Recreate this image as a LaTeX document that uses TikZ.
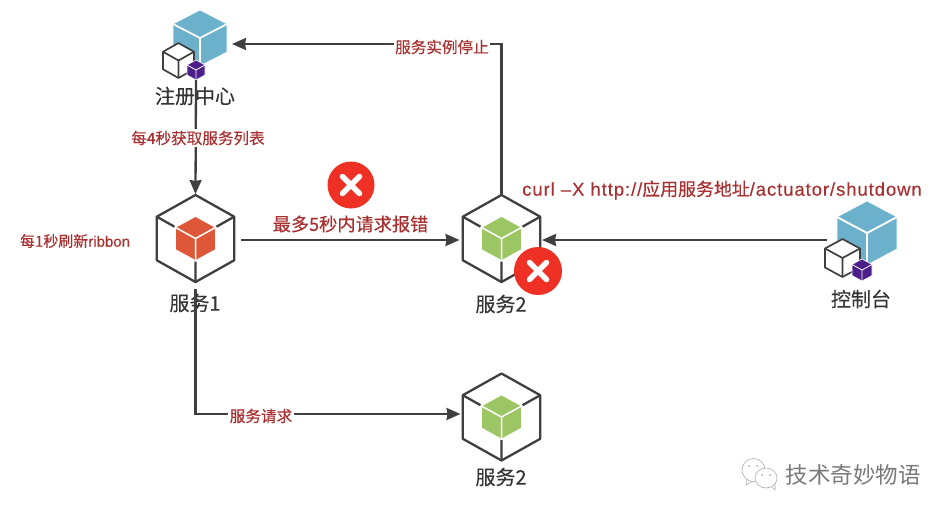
\documentclass[tikz,border=0pt]{standalone}
\usepackage{fontspec}
\setmainfont[FakeBold=0.25]{Liberation Sans}
\newfontfamily\curlf[FakeBold=0.25,LetterSpace=5]{Liberation Sans}
\newfontfamily\cjk[FakeBold=0.3]{Noto Sans CJK SC}
\newfontfamily\cjkplain{Noto Sans CJK SC}
\usetikzlibrary{arrows.meta}
\definecolor{redtxt}{HTML}{A93030}
\definecolor{dk}{HTML}{3F3F3F}
\definecolor{bluec}{HTML}{6CB1CC}
\definecolor{greenc}{HTML}{9CC663}
\definecolor{orangec}{HTML}{DE5738}
\definecolor{purplec}{HTML}{4B1E8A}
\definecolor{redc}{HTML}{EE3124}
\definecolor{wm}{HTML}{7A7A7A}
\newcommand{\FS}[1]{\fontsize{#1}{#1}\selectfont}
% cx cy hw hh fill linecolor linewidth
\newcommand{\CubeIcon}[7]{%
  \begin{scope}[shift={(#1,#2)}]
    \draw[fill=#5,draw=white,line width=0.6,line join=round] (0,-#4) -- (#3,-#4/2) -- (#3,#4/2) -- (0,#4) -- (-#3,#4/2) -- (-#3,-#4/2) -- cycle;
    \draw[#6,line width=#7,line join=round] (-#3,-#4/2) -- (0,0) -- (#3,-#4/2) (0,0) -- (0,#4);
  \end{scope}}
\newcommand{\Outlined}[4]{%
  \begin{scope}[shift={(#1,#2)}]
    \draw[dk,fill=white,line width=1.7,line join=round] (0,-#4) -- (#3,-#4/2) -- (#3,#4/2) -- (0,#4) -- (-#3,#4/2) -- (-#3,-#4/2) -- cycle;
    \draw[dk,line width=1.7,line join=round] (-#3,-#4/2) -- (0,0) -- (#3,-#4/2) (0,0) -- (0,#4);
  \end{scope}}
\newcommand{\HexBox}[3]{%
  \begin{scope}[shift={(#1,#2)}]
    \draw[dk,line width=2.3,line join=round] (0,-43.5) -- (38.7,-21.8) -- (38.7,21.8) -- (0,43.5) -- (-38.7,21.8) -- (-38.7,-21.8) -- cycle;
    \draw[dk,line width=2.3] (-38.7,-21.8) -- (-21,-11.8) (38.7,-21.8) -- (21,-11.8) (0,43.5) -- (0,23);
  \end{scope}
  \CubeIcon{#1}{#2}{20}{22}{#3}{white}{1.5}}
\newcommand{\RedCross}[3]{%
  \fill[redc] (#1,#2) circle (#3);
  \draw[white,line width=5.5,line cap=round] (#1-8.5,#2-8.5) -- (#1+8.5,#2+8.5) (#1-8.5,#2+8.5) -- (#1+8.5,#2-8.5);}
\tikzset{
  anchorbox/.style={minimum width=78,minimum height=90,inner sep=0,outer sep=0},
  title/.style={font=\cjk\FS{20},text=dk!85!black,inner sep=0},
  edgelabel/.style={font=\cjk\FS{15.6},text=redtxt,fill=white,inner sep=1.5},
  freelabel/.style={font=\cjk\FS{15.6},text=redtxt,inner sep=0},
  conn/.style={dk,line width=2.3,-{Stealth[length=14,width=12,inset=1]}},
}
\begin{document}
\begin{tikzpicture}[x=1pt,y=-1pt]
\useasboundingbox[fill=white] (0,0) rectangle (952,516);
% registry icon
\CubeIcon{200}{38}{27}{28}{bluec}{white}{1.7}
\Outlined{178.5}{60.5}{15.5}{17.5}
\CubeIcon{196}{70}{9}{10}{purplec}{white}{0.8}
% console icon
\CubeIcon{867}{233}{30}{32}{bluec}{white}{1.9}
\Outlined{842.5}{258}{17.5}{19}
\CubeIcon{862}{270}{10}{11}{purplec}{white}{0.8}
% service boxes
\HexBox{195.5}{238.5}{orangec}
\HexBox{501.5}{238.5}{greenc}
\HexBox{501.5}{417}{greenc}
% anchors
\node[anchorbox,minimum width=60,minimum height=70] (reg) at (196,45) {};
\node[anchorbox] (svcA) at (195.5,240) {};
\node[anchorbox] (svcB) at (501.5,240) {};
\node[anchorbox] (svcC) at (501.5,414) {};
\node[anchorbox,minimum width=70,minimum height=70] (ctl) at (860,240) {};
\coordinate (turnUp) at (svcB.north |- 0,44);
\coordinate (regIn) at (232,44);
\coordinate (turnDown) at (svcA.south |- svcC.west);
% titles
\node[title] (tReg) at (195,96) {注册中心};
\node[title] (tA) at (195,303) {服务1};
\node[title] (tB) at (501,304) {服务2};
\node[title] (tC) at (501,477) {服务2};
\node[title] (tCtl) at (861,299) {控制台};
% connectors
\draw[conn,shorten >=1] (reg.south) -- (svcA.north);
\draw[conn,shorten <=6,shorten >=3] (svcA.east) -- (svcB.west) ;
\draw[conn,shorten <=1] (svcB.north) -- (turnUp) -- (regIn);
\draw[conn,shorten <=-2,shorten >=1.5] (ctl.west) -- (svcB.east) ;
\draw[conn,shorten <=4,shorten >=2] (svcA.south) -- (turnDown) -- (svcC.west);
% edge labels
\node[edgelabel] (l1) at (198,138) {每4秒获取服务列表};
\node[edgelabel] (l2) at (442,47) {服务实例停止};
\node[edgelabel] (l3) at (261,416) {服务请求};
\node[freelabel,font=\cjk\FS{18.2}] (l4) at (350.5,224) {最多5秒内请求报错};
\node[freelabel,font=\curlf\FS{18.5}] (l5) at (722,190) {curl –X http://{\cjk\FS{17.9}应用服务地址}/actuator/shutdown};
\node[freelabel,font=\cjk\FS{15}] (l6) at (75,241) {每1秒刷新{\rmfamily ribbon}};
% red crosses
\RedCross{351}{185}{23.5}
\RedCross{538}{271}{24}
% watermark
\begin{scope}[wm!60,line width=0.6]
  \draw[fill=white] (753.5,470) ellipse (11.5 and 11.5);
  \draw (747,480) -- (746,485) -- (752,481.5);
  \draw[fill=white] (766,478) ellipse (11 and 10);
  \draw (772,487) -- (775,490) -- (775,483);
  \fill (749,466) circle (1) (757,466) circle (1) (762,475) circle (1) (770,475) circle (1);
\end{scope}
\node[inner sep=0,text=wm,font=\cjkplain\FS{22.5}] (wmk) at (853,475) {技术奇妙物语};
\end{tikzpicture}
\end{document}
